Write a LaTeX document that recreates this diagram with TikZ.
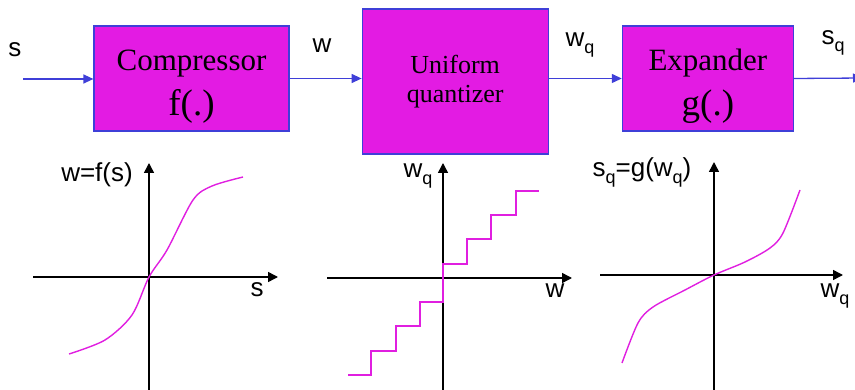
\documentclass[tikz,border=0pt]{standalone}
\usepackage{fontspec}
\setmainfont{Liberation Serif}
\setsansfont{Liberation Sans}
\usetikzlibrary{arrows.meta,positioning}
\definecolor{boxfill}{HTML}{E31BE3}
\definecolor{boxline}{HTML}{3F3FD8}
\definecolor{crvcol}{HTML}{E01FE0}
\newcommand{\lo}[1]{\raisebox{-0.45ex}{\fontsize{18}{18}\selectfont #1}}
\newcommand{\fnbig}[1]{{\fontsize{37}{37}\selectfont #1}}

\begin{document}
\begin{tikzpicture}[x=1pt,y=-1pt,
  blk/.style={draw=boxline,line width=1.2pt,fill=boxfill,align=center,inner sep=0pt},
  sig/.style={-{Triangle[length=10pt,width=9pt]},boxline,line width=1.3pt},
  lbl/.style={font=\sffamily\fontsize{26}{30}\selectfont,inner sep=0pt,anchor=base},
  axis/.style={-{Triangle[length=10pt,width=10pt]},line width=1.5pt},
  crv/.style={crvcol,line width=1.4pt}]
\useasboundingbox (0,0) rectangle (855,390);
\node (comp) [blk,minimum width=195pt,minimum height=105pt,font=\fontsize{31}{45}\selectfont] at (191.5,78.5) {\rule{0pt}{37pt}Compressor\\\fnbig{f(.)}};
\node (quant) [blk,minimum width=186pt,minimum height=145pt,font=\fontsize{26}{29}\selectfont,right=72pt of comp,yshift=-3pt] {Uniform\\quantizer};
\node (expd) [blk,minimum width=171pt,minimum height=105pt,font=\fontsize{31}{45}\selectfont,right=73pt of quant,yshift=3pt] {\rule{0pt}{37pt}Expander\\\fnbig{g(.)}};
\coordinate (in) at (23,79);
\coordinate (out) at (863,78);
\draw[sig] (in) -- (in -| comp.west);
\draw[sig] (comp.east) -- (comp.east -| quant.west);
\draw[sig] (quant.east |- expd.west) -- (expd.west);
\draw[sig] (expd.east) -- (out);
\node (ls) [lbl] at (15,57) {s};
\node (lw) [lbl] at (322,53) {w};
\node (lwq) [lbl] at (580,47) {w\lo{q}};
\node (lsq) [lbl] at (833,45) {s\lo{q}};

\draw[axis] (33,277) -- (278,277);
\draw[axis] (149,390) -- (149,163);
\node (fy) [lbl] at (97,182) {w=f(s)};
\node (fx) [lbl] at (257,297) {s};
\draw[crv] plot[smooth] coordinates {(69,354) (105,340) (132,315) (149,277) (167,250) (193,200) (212,186) (243,177)};

\draw[axis] (327,278) -- (572,278);
\draw[axis] (443,390) -- (443,163);
\node (qy) [lbl] at (418,178) {w\lo{q}};
\node (qx) [lbl] at (555,298) {w};
\draw[crv] (348,375) -- (371,375) -- (371,351) -- (396,351) -- (396,326) -- (420,326) -- (420,302) -- (443,302) -- (443,264) -- (467,264) -- (467,239) -- (491,239) -- (491,215) -- (516,215) -- (516,191) -- (539,191);

\draw[axis] (600,275) -- (843,275);
\draw[axis] (714,390) -- (714,162);
\node (gy) [lbl] at (642,177) {s\lo{q}=g(w\lo{q})};
\node (gx) [lbl] at (835,298) {w\lo{q}};
\draw[crv] plot[smooth] coordinates {(622,363) (638,323) (653,307) (685,290) (714,275) (745,262) (770,248) (783,233) (800,190)};
\end{tikzpicture}
\end{document}
